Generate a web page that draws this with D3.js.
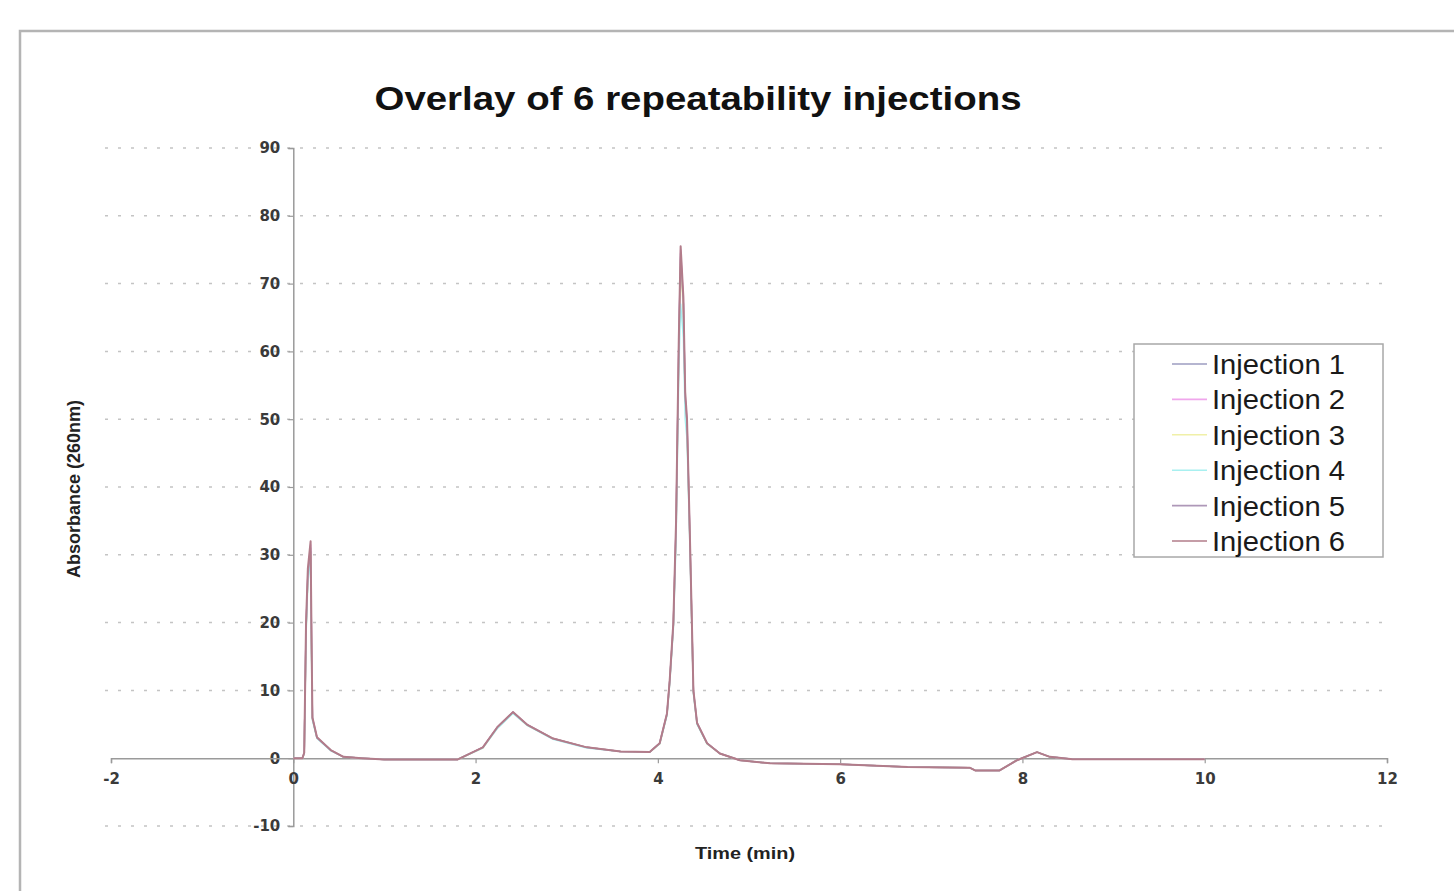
<!DOCTYPE html>
<html>
<head>
<meta charset="utf-8">
<script src="https://cdn.jsdelivr.net/npm/d3@7"></script>
<style>
  html, body { margin: 0; padding: 0; background: #fff; }
  svg { display: block; }
</style>
</head>
<body>
<svg id="chart" width="1454" height="891"></svg>
<script>
// Retention time axis (minutes), shared by all injections
const timeMin = [0, 0.1, 0.12, 0.14, 0.16, 0.19, 0.2, 0.21, 0.26, 0.41, 0.55, 0.75, 1.0, 1.8, 2.08, 2.24, 2.41, 2.57, 2.85, 3.22,
  3.59, 3.91, 4.02, 4.1, 4.13, 4.17, 4.2, 4.23, 4.25, 4.28, 4.3, 4.32, 4.35, 4.375, 4.39, 4.43, 4.54, 4.68, 4.9, 5.23,
  6.0, 6.74, 7.42, 7.48, 7.75, 7.94, 8.16, 8.3, 8.55, 10.0];

// Absorbance at 260 nm for each injection
const injection1 = [0, 0, 0.7, 19, 27, 31, 17, 5.8, 3.0, 1.2, 0.2, 0, -0.2, -0.2, 1.6, 4.5, 6.7, 4.9, 2.9, 1.6,
  1.0, 0.9, 2.2, 6.5, 11.3, 19.6, 34, 61, 74.5, 67, 53, 49, 33, 18.6, 9.8, 5.1, 2.2, 0.7, -0.3, -0.75,
  -0.9, -1.3, -1.4, -1.8, -1.8, -0.3, 0.9, 0.2, -0.15, -0.15];
const injection2 = [0, 0, 0.8, 19.5, 27.5, 31.5, 17.5, 6, 3.1, 1.2, 0.2, 0, -0.2, -0.2, 1.6, 4.6, 6.8, 4.9, 2.9, 1.6,
  1.0, 0.9, 2.2, 6.6, 11.4, 19.8, 34.5, 61.5, 75, 67.5, 53.5, 50, 33.4, 18.8, 10, 5.2, 2.2, 0.7, -0.3, -0.75,
  -0.9, -1.3, -1.4, -1.8, -1.8, -0.3, 0.9, 0.2, -0.15, -0.15];
const injection3 = [0, 0, 0.7, 18.5, 26.5, 30, 16, 5.7, 3.0, 1.2, 0.2, 0, -0.2, -0.2, 1.5, 4.5, 6.7, 4.8, 2.9, 1.6,
  1.0, 0.9, 2.1, 6.4, 11.2, 19.4, 33.5, 60, 73, 66, 52.5, 48.5, 32.8, 18.4, 9.7, 5.1, 2.1, 0.7, -0.3, -0.75,
  -0.9, -1.3, -1.4, -1.8, -1.8, -0.3, 0.9, 0.2, -0.15, -0.15];
const injection4 = [0, 0, 0.7, 18, 26, 29, 15, 5.6, 2.9, 1.1, 0.2, 0, -0.2, -0.2, 1.5, 4.4, 6.6, 4.8, 2.8, 1.5,
  1.0, 0.9, 2.1, 6.3, 11.0, 19.0, 32, 57, 67, 62, 50, 47, 32, 18, 9.5, 5.0, 2.1, 0.7, -0.3, -0.75,
  -0.9, -1.3, -1.4, -1.8, -1.8, -0.3, 0.9, 0.2, -0.15, -0.15];
const injection5 = [0, 0, 0.8, 19, 27, 30.5, 17, 5.9, 3.0, 1.2, 0.2, 0, -0.2, -0.2, 1.6, 4.6, 6.8, 4.9, 2.9, 1.6,
  1.0, 0.9, 2.2, 6.5, 11.4, 19.7, 34.2, 61, 74, 67, 53, 49.5, 33.2, 18.7, 9.9, 5.2, 2.2, 0.7, -0.3, -0.75,
  -0.9, -1.3, -1.4, -1.8, -1.8, -0.3, 0.9, 0.2, -0.15, -0.15];
const injection6 = [0, 0, 0.8, 20, 28, 32, 18, 6, 3.1, 1.2, 0.2, 0, -0.2, -0.2, 1.6, 4.6, 6.8, 4.9, 2.9, 1.6,
  1.0, 0.9, 2.2, 6.6, 11.5, 20, 35, 62, 75.5, 68, 54, 50, 33.6, 19, 10, 5.2, 2.2, 0.7, -0.3, -0.75,
  -0.9, -1.3, -1.4, -1.8, -1.8, -0.3, 0.9, 0.2, -0.15, -0.15];

const seriesNames = ["Injection 1", "Injection 2", "Injection 3", "Injection 4", "Injection 5", "Injection 6"];
const seriesValues = [injection1, injection2, injection3, injection4, injection5, injection6];
const seriesColors = ["#9c9cc0", "#f0a6ec", "#f0f0a8", "#a8f0f0", "#ae98b8", "#b27c8a"];

const xTicks = [-2, 0, 2, 4, 6, 8, 10, 12];
const yTicks = [-10, 0, 10, 20, 30, 40, 50, 60, 70, 80, 90];

const svg = d3.select("#chart");
const FONT = "Liberation Sans, Arial, sans-serif";
const TICK_FONT = "DejaVu Sans, Liberation Sans, sans-serif";

// outer chart frame
svg.append("rect")
  .attr("x", 20).attr("y", 31).attr("width", 1500).attr("height", 1000)
  .attr("fill", "#fff").attr("stroke", "#b4b4b4").attr("stroke-width", 2.5);

const x = d3.scaleLinear().domain([-2, 12]).range([111, 1387]);
const y = d3.scaleLinear().domain([-10, 90]).range([826, 148]);

// dotted horizontal gridlines
svg.append("g").selectAll("line")
  .data(yTicks.filter(v => v !== 0))
  .join("line")
  .attr("x1", 105).attr("x2", 1390)
  .attr("y1", d => y(d)).attr("y2", d => y(d))
  .attr("stroke", "#c4c4c4").attr("stroke-width", 1.5)
  .attr("stroke-dasharray", "3,10");

// y axis along x = 0
const yAxis = d3.axisLeft(y).tickValues(yTicks).tickFormat(d => String(d)).tickSize(5).tickPadding(8);
const gy = svg.append("g").attr("transform", `translate(${x(0)},0)`).call(yAxis);
gy.select(".domain").attr("stroke", "#9a9a9a").attr("stroke-width", 1.5);
gy.selectAll(".tick line").attr("stroke", "#9a9a9a").attr("stroke-width", 1.2);
gy.selectAll(".tick text")
  .attr("font-family", TICK_FONT)
  .attr("font-size", 15).attr("font-weight", "bold").attr("fill", "#3a3a3a");

// x axis along y = 0
const xAxis = d3.axisBottom(x).tickValues(xTicks).tickFormat(d => String(d)).tickSize(5).tickPadding(10);
const gx = svg.append("g").attr("transform", `translate(0,${y(0)})`).call(xAxis);
gx.select(".domain").attr("stroke", "#9a9a9a").attr("stroke-width", 1.5);
gx.selectAll(".tick line").attr("stroke", "#9a9a9a").attr("stroke-width", 1.2);
gx.selectAll(".tick text")
  .attr("font-family", TICK_FONT)
  .attr("font-size", 15).attr("font-weight", "bold").attr("fill", "#3a3a3a");

// chromatogram traces
const line = d3.line()
  .x((d, i) => x(timeMin[i]))
  .y(d => y(d));

svg.append("g").selectAll("path")
  .data(seriesValues)
  .join("path")
  .attr("d", d => line(d))
  .attr("fill", "none")
  .attr("stroke", (d, i) => seriesColors[i])
  .attr("stroke-width", (d, i) => i === 5 ? 2 : 1.5)
  .attr("stroke-linejoin", "round");

// title
svg.append("text")
  .attr("x", 698).attr("y", 110)
  .attr("text-anchor", "middle")
  .attr("font-family", FONT)
  .attr("font-size", 33).attr("font-weight", "bold").attr("fill", "#111")
  .attr("textLength", 647).attr("lengthAdjust", "spacingAndGlyphs")
  .text("Overlay of 6 repeatability injections");

// axis titles
svg.append("text")
  .attr("transform", "translate(80,489) rotate(-90)")
  .attr("text-anchor", "middle")
  .attr("font-family", FONT)
  .attr("font-size", 18).attr("font-weight", "bold").attr("fill", "#222")
  .attr("textLength", 178).attr("lengthAdjust", "spacingAndGlyphs")
  .text("Absorbance (260nm)");

svg.append("text")
  .attr("x", 745).attr("y", 859)
  .attr("text-anchor", "middle")
  .attr("font-family", FONT)
  .attr("font-size", 16).attr("font-weight", "bold").attr("fill", "#222")
  .attr("textLength", 100).attr("lengthAdjust", "spacingAndGlyphs")
  .text("Time (min)");

// legend
const legend = svg.append("g");
legend.append("rect")
  .attr("x", 1134).attr("y", 344).attr("width", 249).attr("height", 213)
  .attr("fill", "#fff").attr("stroke", "#a8a8a8").attr("stroke-width", 1.5);

const items = legend.selectAll("g.item")
  .data(seriesNames)
  .join("g")
  .attr("class", "item")
  .attr("transform", (d, i) => `translate(0,${364 + i * 35.4})`);

items.append("line")
  .attr("x1", 1172).attr("x2", 1207).attr("y1", 0).attr("y2", 0)
  .attr("stroke", (d, i) => seriesColors[i]).attr("stroke-width", 1.6);

items.append("text")
  .attr("x", 1212).attr("y", 10)
  .attr("font-family", FONT)
  .attr("font-size", 28).attr("fill", "#1a1a1a")
  .attr("textLength", 133).attr("lengthAdjust", "spacingAndGlyphs")
  .text(d => d);
</script>
</body>
</html>
